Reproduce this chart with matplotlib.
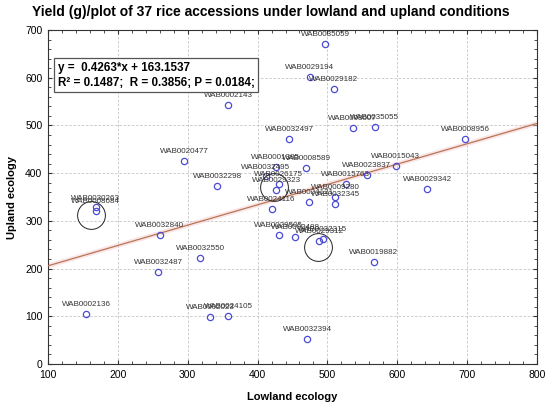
import numpy as np
import matplotlib
matplotlib.use("Agg")
from matplotlib import pyplot as plt
from matplotlib.ticker import MultipleLocator

plt.rcParams['font.family'] = ['Liberation Sans', 'DejaVu Sans']

# accessions, lowland yield (x) and upland yield (y)
names = [
    'WAB0035059', 'WAB0029194', 'WAB0029182', 'WAB0002143', 'WAB0008007',
    'WAB0035055', 'WAB0008956', 'WAB0032497', 'WAB0020477', 'WAB0032298',
    'WAB0001385', 'WAB0008589', 'WAB0032495', 'WAB0026175', 'WAB0029323',
    'WAB0024116', 'WAB0024121', 'WAB0015763', 'WAB0009280', 'WAB0032345',
    'WAB0023837', 'WAB0015043', 'WAB0029342', 'WAB0030263', 'WAB0008684',
    'WAB0032840', 'WAB0032550', 'WAB0032487', 'WAB0002136', 'WAB0002023',
    'WAB0024105', 'WAB0032394', 'WAB0029505', 'WAB0002488', 'WAB0029312',
    'WAB0032315', 'WAB0019882',
]
lowland = [497, 475, 509, 358, 536, 568, 697, 445, 295, 342,
           426, 470, 412, 430, 427, 420, 474, 526, 511, 511,
           556, 598, 643, 168, 168, 260, 318, 258, 155, 332,
           358, 471, 430, 454, 488, 493, 566]
upland = [670, 602, 577, 542, 494, 496, 471, 471, 426, 374,
          412, 411, 393, 377, 365, 325, 340, 377, 350, 336,
          397, 414, 367, 328, 320, 270, 222, 193, 105, 99,
          101, 52, 271, 266, 258, 262, 214]

# highlighted groups (large open circles)
ring_x = [162, 424, 487]
ring_y = [312, 370, 246]

slope = 0.4263
intercept = 163.1537
r2, r, p = 0.1487, 0.3856, 0.0184

fig = plt.figure(figsize=(5.5, 4.08), dpi=100)
ax = fig.add_axes([48 / 550, 1 - 364 / 408, 489 / 550, 334 / 408])

ax.set_xlim(100, 800)
ax.set_ylim(0, 700)
ax.xaxis.set_major_locator(MultipleLocator(100))
ax.yaxis.set_major_locator(MultipleLocator(100))
ax.xaxis.set_minor_locator(MultipleLocator(20))
ax.yaxis.set_minor_locator(MultipleLocator(20))
ax.grid(True, which='major', color='#c4c4c4', linestyle=(0, (3, 2)), linewidth=0.6)
ax.set_axisbelow(True)
ax.tick_params(which='both', direction='in', top=True, right=True,
               labelsize=7.5, color='#333333', pad=4)
ax.tick_params(which='major', length=3)
ax.tick_params(which='minor', length=2)
for s in ax.spines.values():
    s.set_linewidth(0.8)
    s.set_color('#333333')

# fitted line
xl = np.array([100, 800])
ax.plot(xl, slope * xl + intercept, color='#f4c8cc', lw=3.5, alpha=0.45, zorder=2)
ax.plot(xl, slope * xl + intercept, color='#b87554', lw=0.9, zorder=3)

ax.plot(lowland, upland, 'o', mfc='none', mec='#4b4bd8', ms=4.5, mew=0.9, zorder=4)
ax.plot(ring_x, ring_y, 'o', mfc='none', mec='#222222', ms=20, mew=0.7, zorder=4)

for n, x, y in zip(names, lowland, upland):
    ax.annotate(n, (x, y), xytext=(0, 4.3), textcoords='offset points',
                ha='center', va='bottom', fontsize=5.8, color='#333333', zorder=5)

ax.text(0.02, 0.905, 'y =  %.4f*x + %.4f\nR\u00b2 = %.4f;  R = %.4f; P = %.4f;'
        % (slope, intercept, r2, r, p),
        transform=ax.transAxes, ha='left', va='top', fontsize=8.4,
        fontweight='bold', linespacing=1.35, zorder=6,
        bbox=dict(boxstyle='square,pad=0.3', fc='white', ec='#555555', lw=0.9))

ax.set_xlabel('Lowland ecology', fontsize=8, fontweight='bold', labelpad=9)
ax.set_ylabel('Upland ecology', fontsize=8, fontweight='bold', labelpad=6)

fig.text(271 / 550, 1 - 12 / 408,
         'Yield (g)/plot of 37 rice accessions under lowland and upland conditions',
         ha='center', va='center', fontsize=10, fontweight='bold')

fig.savefig('out.png', dpi=100)
